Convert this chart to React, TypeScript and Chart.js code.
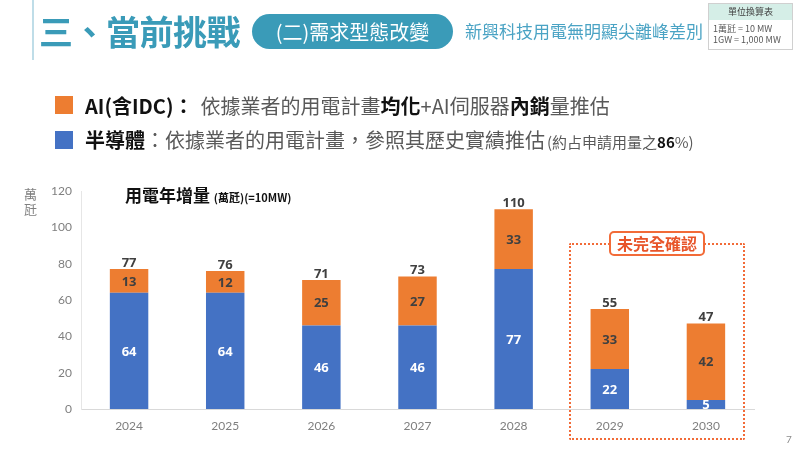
import React, { useEffect, useRef } from "react";
import { Chart, registerables } from "chart.js";

Chart.register(...registerables);

const years = ["2024", "2025", "2026", "2027", "2028", "2029", "2030"];
const semiconductor = [64, 64, 46, 46, 77, 22, 5];
const aiIdc = [13, 12, 25, 27, 33, 33, 42];
const yMax = 120;
const yStep = 20;

const BLUE = "#4472C4";
const ORANGE = "#ED7D31";
const TEAL = "#3A9BB8";
const CJK = '"Noto Sans CJK TC", "Noto Sans", sans-serif';

const labelPlugin = {
  id: "barLabels",
  afterDatasetsDraw(chart: any) {
    const ctx = chart.ctx;
    ctx.save();
    ctx.textAlign = "center";
    ctx.textBaseline = "middle";
    ctx.font = 'bold 13px "Open Sans", sans-serif';
    chart.data.datasets.forEach((ds: any, di: number) => {
      const meta = chart.getDatasetMeta(di);
      meta.data.forEach((el: any, i: number) => {
        const v = ds.data[i];
        const cy = (el.y + el.base) / 2;
        ctx.fillStyle = di === 0 ? "#ffffff" : "#404040";
        ctx.fillText(String(v), el.x, cy + 1);
      });
    });
    const top = chart.getDatasetMeta(chart.data.datasets.length - 1);
    top.data.forEach((el: any, i: number) => {
      const total = chart.data.datasets.reduce((s: number, d: any) => s + d.data[i], 0);
      ctx.fillStyle = "#404040";
      ctx.fillText(String(total), el.x, el.y - 6);
    });
    ctx.restore();
  },
};

function ChartCanvas() {
  const ref = useRef<HTMLCanvasElement | null>(null);
  useEffect(() => {
    if (!ref.current) return;
    const chart = new Chart(ref.current, {
      type: "bar",
      data: {
        labels: years,
        datasets: [
          { label: "半導體", data: semiconductor, backgroundColor: BLUE, stack: "s" },
          { label: "AI(含IDC)", data: aiIdc, backgroundColor: ORANGE, stack: "s" },
        ],
      },
      options: {
        animation: false,
        responsive: false,
        devicePixelRatio: 1,
        layout: { padding: { top: 191, right: 46, bottom: 0, left: 0 } },
        plugins: { legend: { display: false }, tooltip: { enabled: false }, title: { display: false } },
        datasets: { bar: { barPercentage: 0.4, categoryPercentage: 1 } },
        scales: {
          x: {
            stacked: true,
            grid: { display: false, drawTicks: false },
            border: { display: true, color: "#D9D9D9", width: 1 },
            ticks: { color: "#7F7F7F", font: { family: "Lato", size: 12 }, padding: 10 },
            afterFit: (s: any) => {
              s.height = 40;
            },
          },
          y: {
            stacked: true,
            min: 0,
            max: yMax,
            grid: { display: false, drawTicks: false },
            border: { display: true, color: "#E6E6E6", width: 1 },
            ticks: { stepSize: yStep, color: "#7F7F7F", font: { family: "Lato", size: 12 }, padding: 9 },
            afterFit: (s: any) => {
              s.width = 81;
            },
          },
        },
      },
      plugins: [labelPlugin],
    } as any);
    return () => chart.destroy();
  }, []);
  return <canvas ref={ref} width={800} height={449} style={{ position: "absolute", left: 0, top: 0 }} />;
}

export default function App() {
  useEffect(() => {
    document.body.style.margin = "0";
  }, []);
  const abs = (s: React.CSSProperties): React.CSSProperties => ({ position: "absolute", ...s });
  return (
    <div style={{ position: "fixed", left: 0, top: 0, width: 800, height: 449, background: "#fff", overflow: "hidden", fontFamily: CJK }}>
      <ChartCanvas />
      {/* header */}
      <div style={abs({ left: 32, top: 0, width: 2, height: 60, background: "#BFDDE8" })} />
      <div style={abs({ left: 39, top: 13, fontSize: 34, lineHeight: "36px", fontWeight: 700, color: TEAL, whiteSpace: "nowrap", letterSpacing: -0.5 })}>三、當前挑戰</div>
      <div style={abs({ left: 252, top: 14, width: 201, height: 35, borderRadius: 18, background: TEAL, color: "#fff", fontSize: 20, lineHeight: "35px", textAlign: "center", whiteSpace: "nowrap" })}>(二)需求型態改變</div>
      <div style={abs({ left: 465, top: 21, fontSize: 17, lineHeight: "20px", color: "#4AA3C4", whiteSpace: "nowrap" })}>新興科技用電無明顯尖離峰差別</div>
      {/* unit table */}
      <div style={abs({ left: 708, top: 3, width: 83, height: 45, border: "1px solid #D0D0D0", background: "#fff" })}>
        <div style={{ height: 16, background: "#D5EEE7", fontSize: 9, lineHeight: "16px", textAlign: "center", color: "#404040" }}>單位換算表</div>
        <div style={{ padding: "3px 0 0 4px", fontSize: 9, lineHeight: "11px", color: "#595959", whiteSpace: "nowrap" }}>
          <div>1萬瓩 = 10 MW</div>
          <div>1GW = 1,000 MW</div>
        </div>
      </div>
      {/* legend */}
      <div style={abs({ left: 55, top: 96, width: 18, height: 18, background: ORANGE })} />
      <div style={abs({ left: 55, top: 131, width: 18, height: 18, background: BLUE })} />
      <div style={abs({ left: 85, top: 94, fontSize: 20, lineHeight: "24px", color: "#595959", whiteSpace: "nowrap" })}>
        <b style={{ color: "#111" }}>AI(含IDC)：</b>
        <span style={{ marginLeft: 7 }}>依據業者的用電計畫</span>
        <b style={{ color: "#111" }}>均化</b>+AI伺服器<b style={{ color: "#111" }}>內銷</b>量推估
      </div>
      <div style={abs({ left: 85, top: 128, fontSize: 20, lineHeight: "24px", color: "#595959", whiteSpace: "nowrap" })}>
        <b style={{ color: "#111" }}>半導體</b>：依據業者的用電計畫，參照其歷史實績推估
        <span style={{ fontSize: 15, marginLeft: 2 }}>(約占申請用量之<b style={{ color: "#111" }}>86</b>%)</span>
      </div>
      {/* axis unit */}
      <div style={abs({ left: 24, top: 186, width: 14, fontSize: 13, lineHeight: "15px", color: "#7F7F7F" })}>萬<br />瓩</div>
      {/* chart title */}
      <div style={abs({ left: 125, top: 184, fontSize: 17, lineHeight: "22px", fontWeight: 700, color: "#111", whiteSpace: "nowrap" })}>
        用電年增量 <span style={{ fontSize: 11 }}>(萬瓩)(=10MW)</span>
      </div>
      {/* unconfirmed box */}
      <div style={abs({ left: 569, top: 243, width: 172, height: 193, border: "2px dotted #F26B38", borderRadius: 2 })} />
      <div style={abs({ left: 609, top: 231, width: 92, height: 21, border: "2px solid #F26B38", borderRadius: 5, background: "#fff", color: "#E8552A", fontSize: 16, lineHeight: "21px", fontWeight: 700, textAlign: "center", whiteSpace: "nowrap" })}>未完全確認</div>
      <div style={abs({ left: 786, top: 433, fontSize: 10, color: "#8C8C8C", fontFamily: "Lato" })}>7</div>
    </div>
  );
}
